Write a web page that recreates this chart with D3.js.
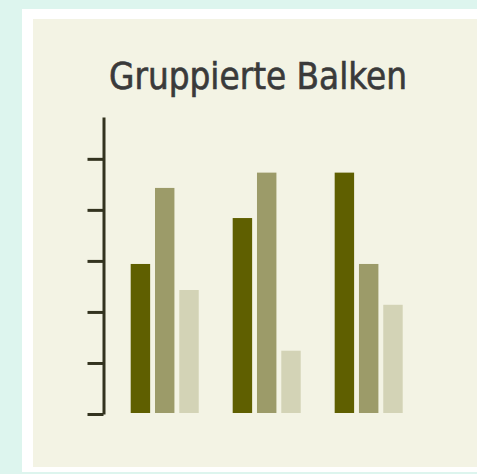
<!DOCTYPE html>
<html>
<head>
<meta charset="utf-8">
<script src="https://cdn.jsdelivr.net/npm/d3@7"></script>
<style>
  body { margin: 0; background: #ddf5ee; }
</style>
</head>
<body>
<div id="chart"></div>
<script>
// data
var groups = ["A", "B", "C"];
var series = ["s1", "s2", "s3"];
var s1 = [29.4, 38.4, 47.3];
var s2 = [44.3, 47.3, 29.4];
var s3 = [24.3, 12.4, 21.4];
var tickValues = [0, 10, 20, 30, 40, 50];
var title = "Gruppierte Balken";

var width = 477, height = 474;

var svg = d3.select("#chart")
  .append("svg")
    .attr("width", width)
    .attr("height", height);

// frame + panel
svg.append("rect").attr("x", 22).attr("y", 9).attr("width", width - 22).attr("height", 463).style("fill", "#ffffff");
svg.append("rect").attr("x", 33).attr("y", 19).attr("width", width - 33).attr("height", 448).style("fill", "#f3f3e4");

var titleText = svg.append("text")
  .attr("x", 258).attr("y", 89)
  .attr("text-anchor", "middle")
  .style("font-family", "'DejaVu Sans Condensed', 'DejaVu Sans', sans-serif")
  .style("font-stretch", "condensed")
  .style("font-size", "48px")
  .style("fill", "#3a3a3a")
  .style("stroke", "#3a3a3a")
  .style("stroke-width", 0.6)
  .text(title);

// fit the title to the width seen in the picture (~300px)
var tw = titleText.node().getComputedTextLength();
if (tw > 0) titleText.style("font-size", (48 * 298 / tw) + "px");

var y = d3.scaleLinear()
  .domain([0, 58.2])
  .range([414, 117]);

var x0 = d3.scaleBand()
  .domain(groups)
  .range([130.7, 402.7])
  .paddingInner(0.333)
  .paddingOuter(0);

var x1 = d3.scaleBand()
  .domain(series)
  .range([0, x0.bandwidth()])
  .paddingInner(0.2)
  .paddingOuter(0);

var color = d3.scaleOrdinal()
  .domain(series)
  .range(["#5f5f00", "#9c9b69", "#d3d3b6"]);

var rows = groups.map(function(g, i) {
  return {group: g, values: [s1[i], s2[i], s3[i]]};
});

var layer = svg.selectAll("g.layer").data(rows)
  .enter().append("g").classed("layer", true)
    .attr("transform", function(d) { return "translate(" + x0(d.group) + ",0)"; });

layer.selectAll("rect")
  .data(function(d) {
    return series.map(function(key, j) { return {key: key, value: d.values[j]}; });
  })
  .enter().append("rect")
    .attr("x", function(d) { return x1(d.key); })
    .attr("width", x1.bandwidth())
    .attr("y", function(d) { return y(d.value); })
    .attr("height", function(d) { return y(0) - 1 - y(d.value); })
    .attr("fill", function(d) { return color(d.key); });

var yAxis = svg.append("g")
  .attr("transform", "translate(103.5,0)")
  .call(d3.axisLeft(y).tickValues(tickValues).tickSize(16).tickSizeOuter(0).tickFormat(""));

yAxis.select(".domain").style("stroke", "#33331f").style("stroke-width", 3);
yAxis.selectAll(".tick line").style("stroke", "#33331f").style("stroke-width", 3);
</script>
</body>
</html>
